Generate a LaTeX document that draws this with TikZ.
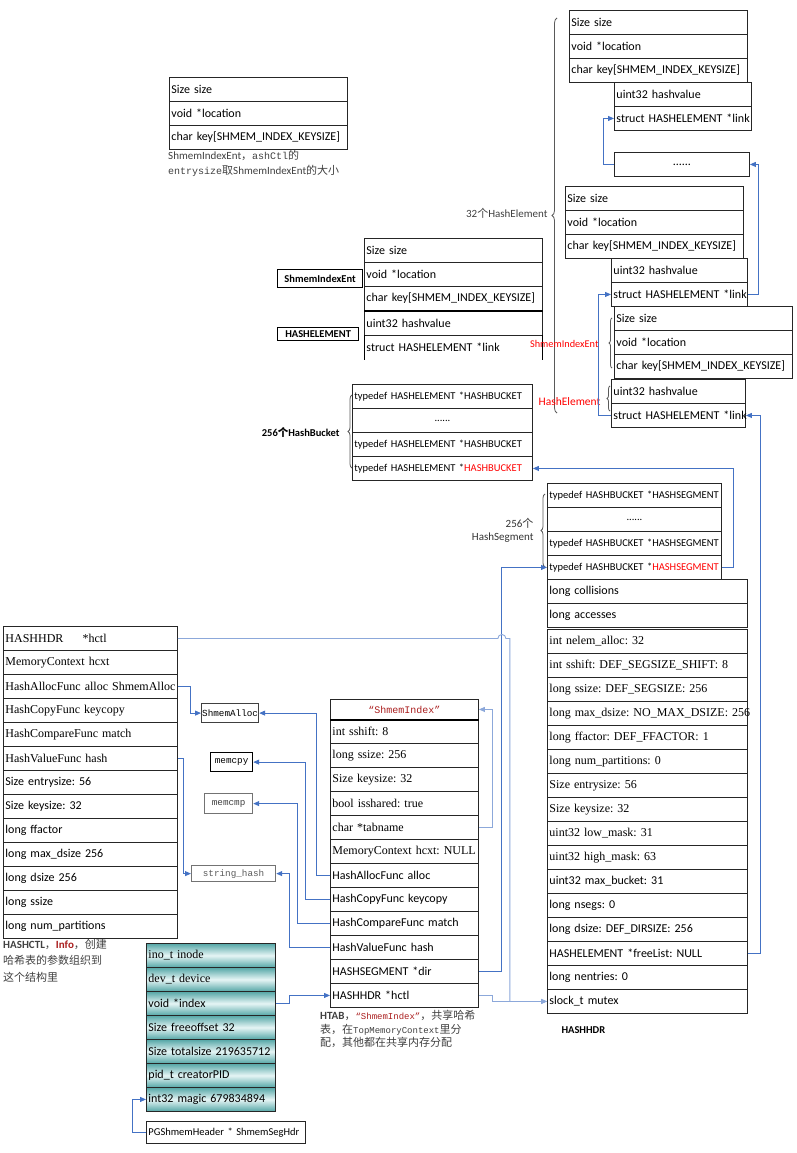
\documentclass[tikz,border=0pt]{standalone}
\usepackage{fontspec}
\setmainfont{Carlito}
\newfontfamily\tnr{Liberation Serif}
\newfontfamily\simfont{Liberation Mono}
\newfontfamily\cjk{Noto Sans CJK SC}
\usetikzlibrary{positioning, decorations.pathreplacing, arrows.meta}

\definecolor{linkblue}{RGB}{68,114,196}
\definecolor{linklight}{RGB}{140,168,218}
\definecolor{tealdark}{RGB}{84,166,166}
\definecolor{teallight}{RGB}{230,245,245}
\definecolor{infored}{RGB}{170,30,30}
\definecolor{capgray}{RGB}{64,64,64}

\frenchspacing
\begin{document}
\begin{tikzpicture}[x=1pt, y=-1pt, font=\fontsize{12}{14}\selectfont]
    % Define styles
    \tikzstyle{cell} = [draw=black!85, line width=0.9pt, anchor=north west, minimum height=24pt, inner xsep=2pt, inner ysep=0pt, align=left]
    \tikzstyle{bucketfont} = [font=\fontsize{10.5}{12}\selectfont]
    \tikzstyle{tcell} = [cell, top color=tealdark, bottom color=tealdark, middle color=teallight]
    \tikzstyle{fnbox} = [draw, line width=1.2pt, anchor=north west, inner sep=0pt, font=\simfont\fontsize{9.3}{11}\selectfont]
    \tikzstyle{tagbox} = [draw, line width=1.2pt, anchor=north west, inner sep=0pt, font=\bfseries\fontsize{10.5}{12}\selectfont]
    \tikzstyle{ptrline} = [draw=linkblue, line width=0.9pt, -{Triangle[length=6pt, width=5pt]}]
    \tikzstyle{softptr} = [ptrline, draw=linklight]
    \tikzstyle{curly} = [decorate, decoration={brace, amplitude=4pt}, draw=black!65, line width=0.8pt]
    \tikzstyle{captext} = [anchor=north west, align=left, inner sep=0pt, text=capgray]

    \useasboundingbox (0,0) rectangle (796,1153);

    % ShmemIndexEnt on its own
    \foreach \t [count=\i from 0] in {Size size, void *location, {char key[SHMEM\_INDEX\_KEYSIZE]}}
        \node[cell, text width=174pt] (se\i) at ({169}, {77+24*\i}) {\mbox{\t}};
    \node[captext, font=\fontsize{11}{15}\selectfont] (capse) at (168,150) {ShmemIndexEnt{\cjk ，}{\simfont\fontsize{10}{15}\selectfont ashCtl}{\cjk 的}\\{\simfont\fontsize{10}{15}\selectfont entrysize}{\cjk 取}ShmemIndexEnt{\cjk 的大小}};

    % ShmemIndexEnt + HASHELEMENT
    \foreach \t [count=\i from 0] in {Size size, void *location, {char key[SHMEM\_INDEX\_KEYSIZE]}}
        \node[cell, text width=174pt] (ie\i) at ({364}, {238+24*\i}) {\mbox{\t}};
    \node[cell, text width=174pt] (he0) at (364,311) {uint32 hashvalue};
    \node[cell, draw=none, text width=174pt] (he1) at (364,335) {struct HASHELEMENT *link};
    \draw[line width=0.9pt] (he1.north west) -- (he1.south west) (he1.north east) -- (he1.south east);
    \draw[line width=2pt] (ie2.south west) -- (ie2.south east);
    \node[tagbox, minimum width=85pt, minimum height=18pt] (tagent) at (277,269) {ShmemIndexEnt};
    \node[tagbox, minimum width=81pt, minimum height=13pt] (taghe) at (277,327) {HASHELEMENT};

    % Hash elements, top right
    \foreach \t [count=\i from 0] in {Size size, void *location, {char key[SHMEM\_INDEX\_KEYSIZE]}}
        \node[cell, text width=174pt] (e1a\i) at ({569}, {10+24*\i}) {\mbox{\t}};
    \foreach \t [count=\i from 0] in {uint32 hashvalue, struct HASHELEMENT *link}
        \node[cell, text width=133pt] (e1b\i) at ({614}, {82+24*\i}) {\mbox{\t}};
    \node[cell, text width=131pt, align=center] (dots) at (614,152) {......};

    \foreach \t [count=\i from 0] in {Size size, void *location, {char key[SHMEM\_INDEX\_KEYSIZE]}}
        \node[cell, text width=174pt] (e2a\i) at ({565}, {186+24*\i}) {\mbox{\t}};
    \foreach \t [count=\i from 0] in {uint32 hashvalue, struct HASHELEMENT *link}
        \node[cell, text width=132pt] (e2b\i) at ({611}, {258+24*\i}) {\mbox{\t}};

    \foreach \t [count=\i from 0] in {Size size, void *location, {char key[SHMEM\_INDEX\_KEYSIZE]}}
        \node[cell, text width=174pt] (e3a\i) at ({614}, {306+24*\i}) {\mbox{\t}};
    \foreach \t [count=\i from 0] in {uint32 hashvalue, struct HASHELEMENT *link}
        \node[cell, text width=130pt] (e3b\i) at ({611}, {379+24*\i}) {\mbox{\t}};

    % Braces and their labels
    \draw[curly, decoration={amplitude=5pt}] (557,413) -- (557,18);
    \node[anchor=east, text=black!75, font=\fontsize{11}{13}\selectfont] (lbel) at (551,213) {32{\cjk 个}HashElement};
    \draw[curly, decoration={amplitude=3pt}] (612,368) -- (612,318);
    \node[anchor=east, text=red, font=\fontsize{10.3}{12}\selectfont] (lbsie) at (602,344) {ShmemIndexEnt};
    \draw[curly, decoration={amplitude=3pt}] (610,411) -- (610,386);
    \node[anchor=east, text=red, font=\fontsize{11.5}{13}\selectfont] (lbhel) at (604,402) {HashElement};

    % HashBucket array
    \foreach \t/\a [count=\i from 0] in {{typedef HASHELEMENT *HASHBUCKET}/left, {......}/center, {typedef HASHELEMENT *HASHBUCKET}/left, {typedef HASHELEMENT *\textcolor{red}{HASHBUCKET}}/left}
        \node[cell, bucketfont, text width=176pt, align=\a] (bk\i) at ({352}, {384+24*\i}) {\mbox{\t}};
    \draw[curly] (352,468) -- (352,395);
    \node[anchor=east, font=\bfseries\fontsize{10.5}{12}\selectfont] (lbbk) at (343,432) {256{\cjk 个}HashBucket};

    % HashSegment array
    \foreach \t/\a [count=\i from 0] in {{typedef HASHBUCKET *HASHSEGMENT}/left, {......}/center, {typedef HASHBUCKET *HASHSEGMENT}/left, {typedef HASHBUCKET *\textcolor{red}{HASHSEGMENT}}/left}
        \node[cell, bucketfont, text width=170pt, align=\a] (sg\i) at ({547}, {483+24*\i}) {\mbox{\t}};
    \draw[curly] (545,567) -- (545,494);
    \node[anchor=east, align=right, text=black!80, font=\fontsize{11}{13}\selectfont] (lbsg) at (537,530) {256{\cjk 个}\\HashSegment};

    % HASHHDR
    \foreach \t [count=\i from 0] in {long collisions, long accesses}
        \node[cell, text width=196pt] (hs\i) at ({547}, {579+24*\i}) {\mbox{\t}};
    \foreach \t [count=\i from 0] in {{\tnr int nelem\_alloc: 32}, {\tnr int sshift: DEF\_SEGSIZE\_SHIFT: 8}, {\tnr long ssize: DEF\_SEGSIZE: 256}, {\tnr long max\_dsize: NO\_MAX\_DSIZE: 256}, {\tnr long ffactor: DEF\_FFACTOR: 1}, {\tnr long num\_partitions: 0}, {\tnr Size entrysize: 56}, {\tnr Size keysize: 32}, {\tnr uint32 low\_mask: 31}, {\tnr uint32 high\_mask: 63}, {uint32 max\_bucket: 31}, {long nsegs: 0}, {long dsize: DEF\_DIRSIZE: 256}, {HASHELEMENT *freeList: NULL}, {long nentries: 0}, {slock\_t mutex}}
        \node[cell, text width=196pt] (hh\i) at ({547}, {629+24*\i}) {\mbox{\t}};
    \node[anchor=west, font=\bfseries\fontsize{10.5}{12}\selectfont] (lbhdr) at (558,1030) {HASHHDR};

    % HASHCTL
    \foreach \t [count=\i from 0] in {{\tnr HASHHDR\hspace{1.6em}*hctl}, {\tnr MemoryContext hcxt}, {\tnr HashAllocFunc alloc ShmemAlloc}, {\tnr HashCopyFunc keycopy}, {\tnr HashCompareFunc match}, {\tnr HashValueFunc hash}, {Size entrysize: 56}, {Size keysize: 32}, {long ffactor}, {long max\_dsize 256}, {long dsize 256}, {long ssize}, {long num\_partitions}}
        \node[cell, text width=170pt] (hc\i) at ({3}, {626+24*\i}) {\mbox{\t}};
    \node[captext, font=\fontsize{11}{16.5}\selectfont] (capctl) at (3,939) {\textbf{HASHCTL}{\cjk ，}\textcolor{infored}{\textbf{Info}}{\cjk ，创建}\\{\cjk 哈希表的参数组织到}\\{\cjk 这个结构里}};

    % functions
    \node[fnbox, draw=black!75, minimum width=57pt, minimum height=19pt] (sa) at (201,703) {ShmemAlloc};
    \node[fnbox, minimum width=42pt, minimum height=19pt] (mcpy) at (210,752) {memcpy};
    \node[fnbox, draw=black!55, text=black!75, minimum width=48pt, minimum height=20pt] (mcmp) at (204,793) {memcmp};
    \node[fnbox, draw=black!55, text=black!65, minimum width=84pt, minimum height=16pt] (sh) at (191,865) {string\_hash};

    % HTAB
    \node[cell, text width=144pt, minimum height=20pt, align=center, text=infored, font=\simfont\fontsize{10}{12}\selectfont] (htt) at (330,699) {“ShmemIndex”};
    \foreach \t [count=\i from 0] in {{\tnr int sshift: 8}, {\tnr long ssize: 256}, {\tnr Size keysize: 32}, {\tnr bool isshared: true}, {\tnr char *tabname}, {\tnr MemoryContext hcxt: NULL}, {HashAllocFunc alloc}, {HashCopyFunc keycopy}, {HashCompareFunc match}, {HashValueFunc hash}, {HASHSEGMENT *dir}, {HASHHDR *hctl}}
        \node[cell, text width=144pt] (ht\i) at ({330}, {719+24*\i}) {\mbox{\t}};
    \draw[line width=2pt] (htt.south west) -- (htt.south east);
    \node[captext, font=\fontsize{11}{13.5}\selectfont] (caphtab) at (320,1010) {\textbf{HTAB}{\cjk ，}{\simfont\fontsize{9}{13.5}\selectfont\color{infored}“ShmemIndex”}{\cjk ，共享哈希}\\{\cjk 表，在}{\simfont\fontsize{9}{13.5}\selectfont TopMemoryContext}{\cjk 里分}\\{\cjk 配，其他都在共享内存分配}};

    % PGShmemHeader
    \foreach \t [count=\i from 0] in {{\tnr ino\_t inode}, {\tnr dev\_t device}, {void *index}, {Size freeoffset 32}, {Size totalsize 219635712}, {pid\_t creatorPID}, {int32 magic 679834894}}
        \node[tcell, text width=125pt] (tl\i) at ({146}, {943+24*\i}) {\mbox{\t}};
    \node[cell, minimum height=22pt, text width=155pt, font=\fontsize{10.5}{12}\selectfont] (pg) at (146,1121) {\mbox{PGShmemHeader * ShmemSegHdr}};

    % Links between the elements
    \draw[ptrline] (e2b1.east) -- ++(11,0) |- (dots.east);
    \draw[ptrline] (dots.west) -- ++(-11,0) |- (e1b1.west);
    \draw[ptrline] (e3b1.west) -- ++(-13,0) |- (e2b1.west);
    \draw[ptrline] (hh13.east) -- ++(13,0) |- (e3b1.east);
    \draw[ptrline] (sg3.east) -- ++(12,0) |- (bk3.east);
    \draw[ptrline] (ht10.east) -- ++(23,0) |- (sg3.west);
    \draw[softptr] (ht11.east) -- ++(14,0) |- (hh15.west);
    \draw[softptr] (hc0.east) -- ++(320,0) arc[start angle=180, end angle=360, radius=4] -- ++(4,0) |- (hh15.west);

    % Function pointers
    \draw[ptrline] (hc2.east) -- ++(13,0) |- (sa.west);
    \draw[ptrline] (hc5.east) -- ++(6,0) |- (sh.west);
    \draw[ptrline] (ht6.west) -- ++(-14,0) |- (sa.east);
    \draw[ptrline] (ht7.west) -- ++(-25,0) |- (mcpy.east);
    \draw[ptrline] (ht8.west) -- ++(-33,0) |- (mcmp.east);
    \draw[ptrline] (ht9.west) -- ++(-41,0) |- (sh.east);
    \draw[softptr] (ht4.east) -- ++(14,0) |- (htt.east);
    \draw[ptrline] (tl2.east) -- ++(14,0) |- (ht11.west);
    \draw[ptrline] (pg.west) -- ++(-14,0) |- (tl6.west);
\end{tikzpicture}
\end{document}
